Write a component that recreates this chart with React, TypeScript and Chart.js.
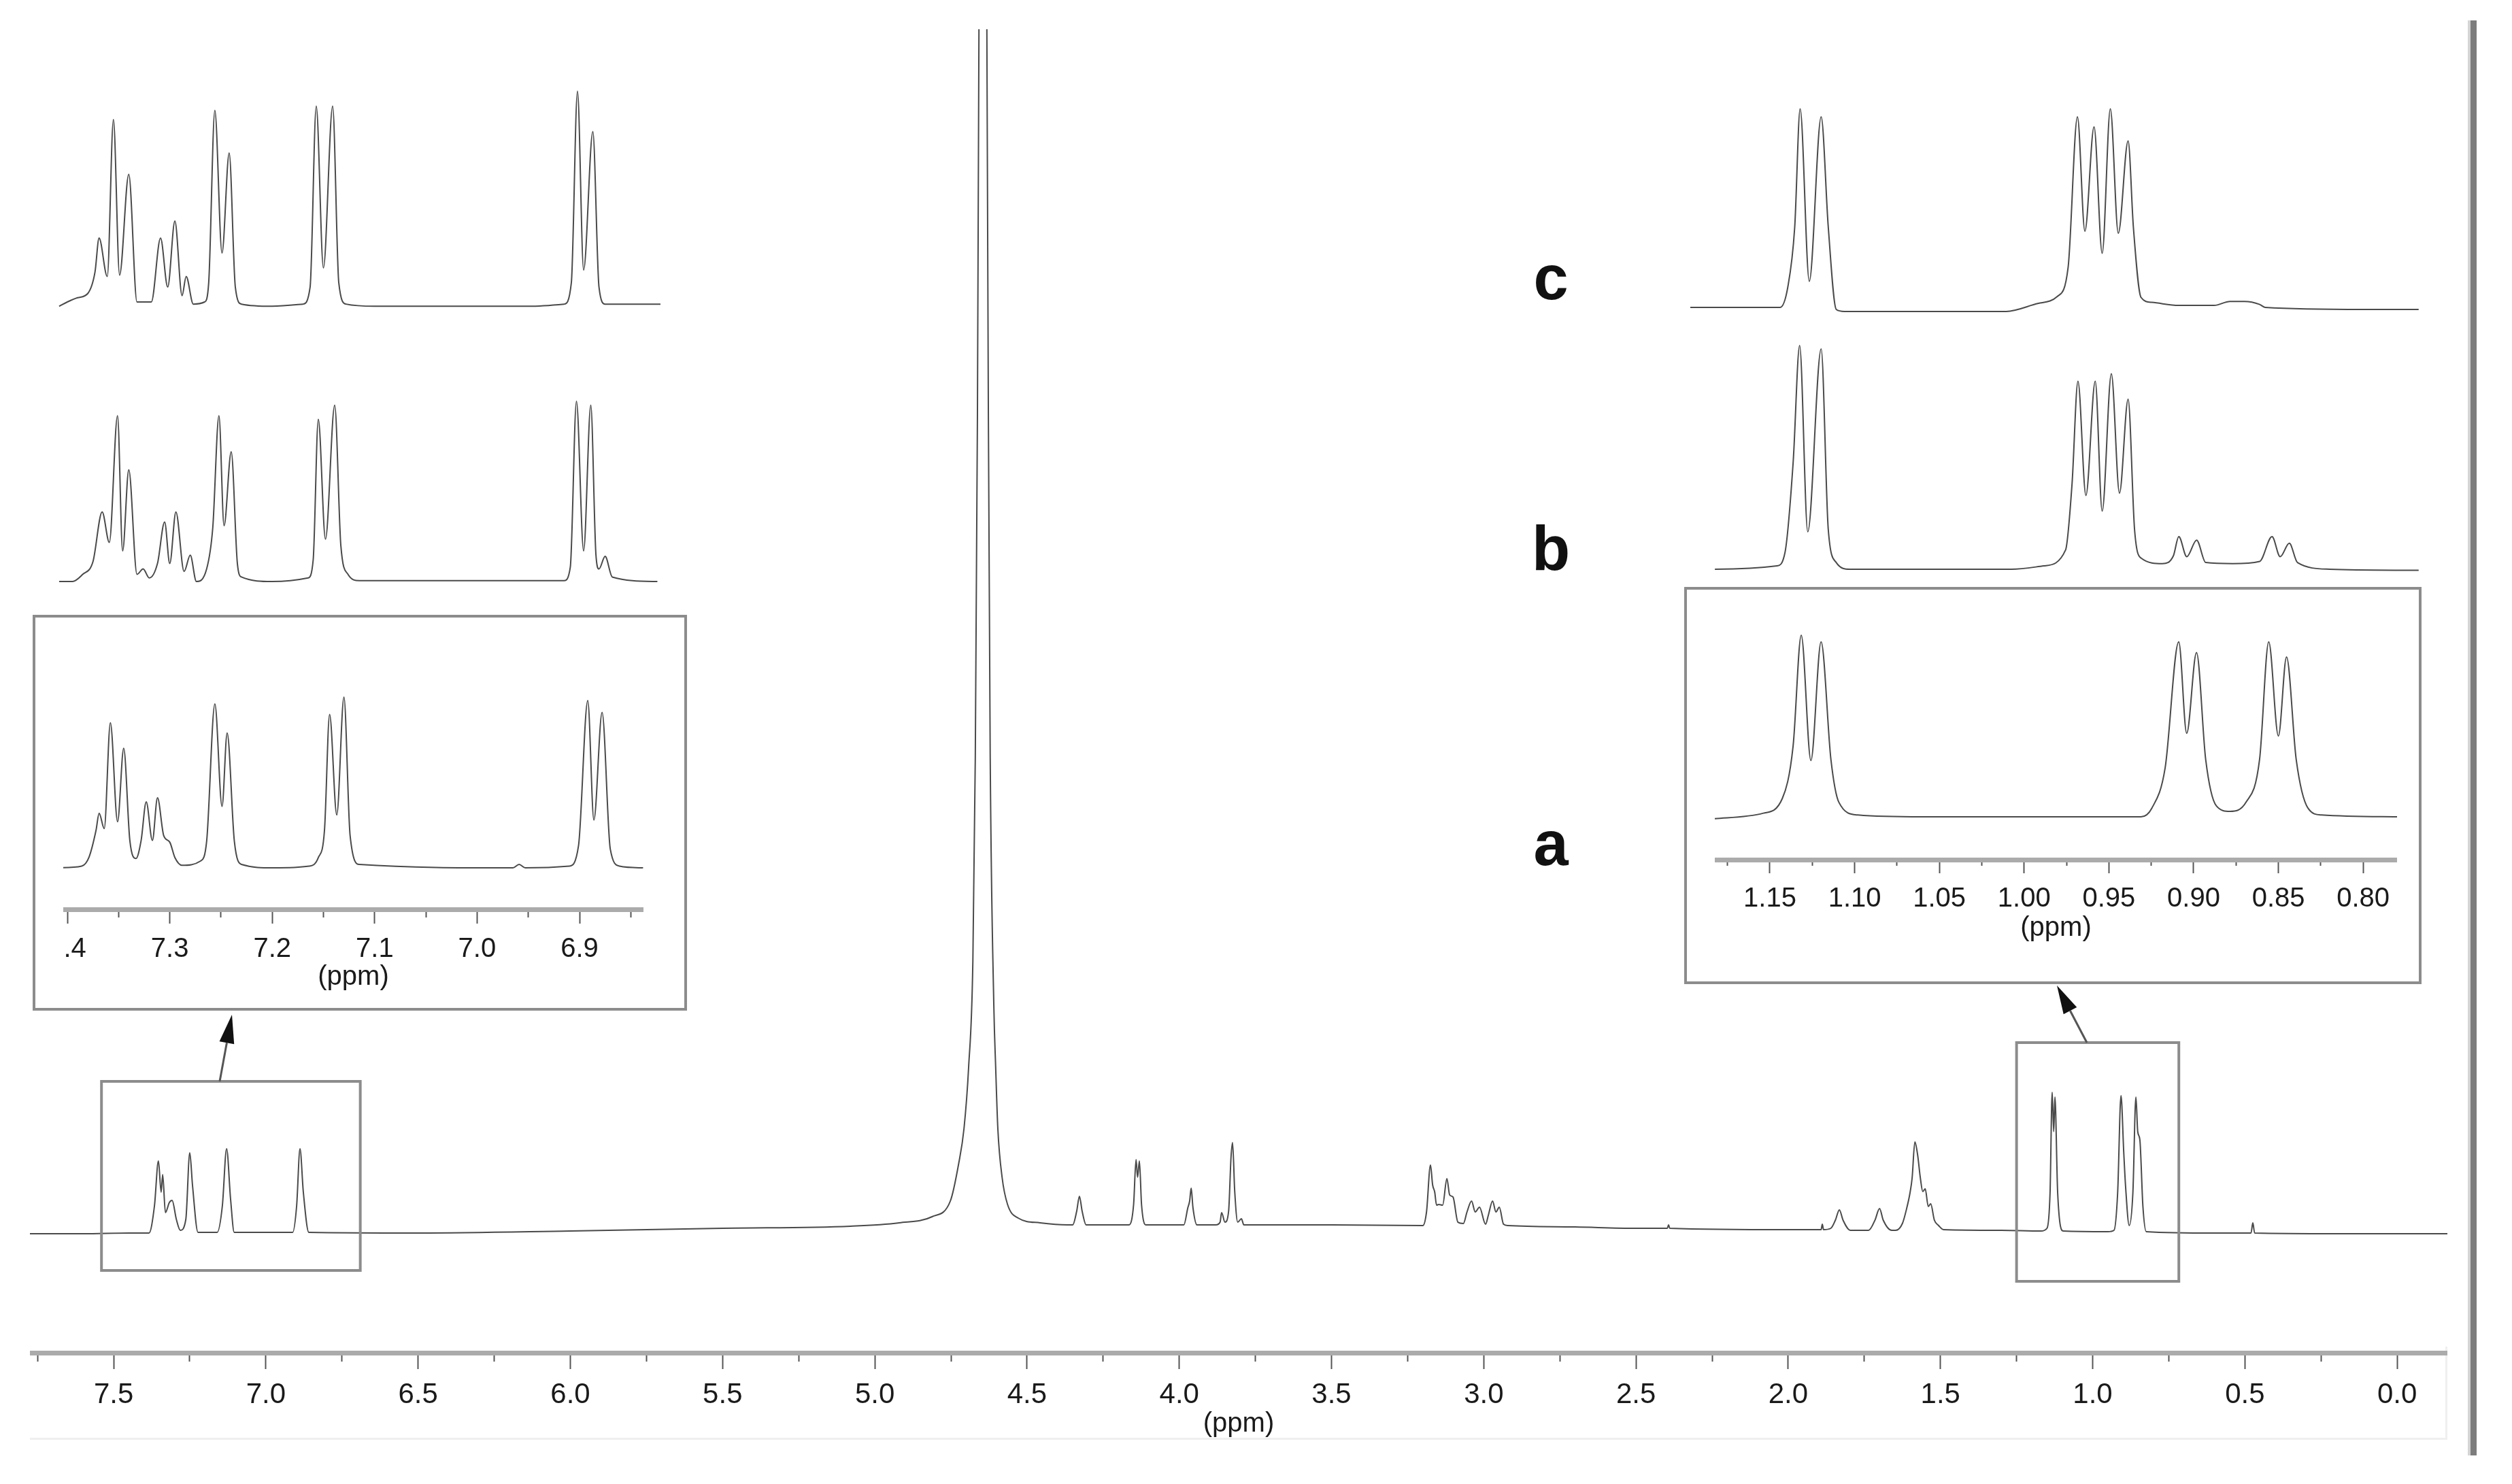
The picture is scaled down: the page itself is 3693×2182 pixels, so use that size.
import React, { useEffect, useRef } from "react";
import { Chart, registerables } from "chart.js";

Chart.register(...registerables);

type Pt = [number, number];

const FONT = '"Liberation Sans", Arial, Helvetica, sans-serif';
const LINE = "#4a4a4a";
const FRAME = "#8c8c8c";

// ---------------- DATA ----------------
// Main 1H spectrum: [ppm, intensity]
const MAIN_SPECTRUM: Pt[] = [
  [7.775, 0], [7.6, 0], [7.45, 1], [7.384, 1], [7.366, 41], [7.353, 107], [7.344, 61], [7.339, 87],
  [7.33, 31], [7.317, 46], [7.308, 49], [7.294, 21], [7.281, 5], [7.263, 21], [7.25, 119], [7.241, 71],
  [7.223, 2], [7.16, 2], [7.143, 41], [7.129, 125], [7.116, 51], [7.104, 2], [6.912, 2], [6.899, 41],
  [6.888, 125], [6.877, 61], [6.859, 2], [6.5, 1], [6.0, 4], [5.5, 8], [5.08, 11], [4.92, 16],
  [4.812, 25], [4.752, 48], [4.725, 102], [4.707, 155], [4.692, 244], [4.678, 400], [4.67, 700],
  [4.663, 1200], [4.656, 2000], [4.645, 3700], [4.634, 2000], [4.627, 1200], [4.621, 700],
  [4.609, 333], [4.603, 244], [4.596, 155], [4.582, 83], [4.564, 43], [4.529, 23], [4.457, 16],
  [4.368, 13], [4.35, 13], [4.337, 33], [4.328, 55], [4.319, 33], [4.306, 13], [4.165, 13],
  [4.15, 43], [4.142, 109], [4.137, 83], [4.131, 107], [4.124, 43], [4.11, 13], [3.985, 13],
  [3.972, 38], [3.966, 48], [3.961, 67], [3.955, 38], [3.942, 13], [3.88, 13], [3.866, 17],
  [3.861, 31], [3.85, 17], [3.838, 33], [3.83, 113], [3.825, 134], [3.818, 63], [3.808, 17],
  [3.796, 22], [3.788, 13], [3.5, 13], [3.2, 12], [3.188, 32], [3.175, 101], [3.168, 72],
  [3.161, 61], [3.155, 42], [3.148, 43], [3.135, 42], [3.121, 81], [3.112, 57], [3.101, 54],
  [3.085, 17], [3.067, 15], [3.055, 32], [3.04, 48], [3.028, 32], [3.014, 39], [2.994, 14],
  [2.985, 27], [2.971, 48], [2.96, 32], [2.949, 39], [2.935, 14], [2.92, 12], [2.7, 10], [2.5, 8],
  [2.397, 8], [2.393, 13], [2.389, 8], [2.0, 6], [1.892, 6], [1.888, 14], [1.884, 6], [1.86, 8],
  [1.845, 20], [1.832, 35], [1.82, 20], [1.796, 5], [1.736, 5], [1.715, 20], [1.7, 37], [1.688, 20],
  [1.66, 5], [1.647, 5], [1.625, 15], [1.611, 37], [1.6, 60], [1.593, 82], [1.584, 135], [1.575, 116],
  [1.566, 82], [1.558, 62], [1.55, 66], [1.54, 40], [1.532, 44], [1.52, 20], [1.506, 12], [1.49, 6],
  [1.3, 5], [1.17, 4], [1.15, 8], [1.14, 60], [1.133, 208], [1.128, 150], [1.124, 201], [1.115, 60],
  [1.097, 4], [0.95, 3], [0.93, 5], [0.918, 60], [0.907, 203], [0.898, 120], [0.892, 70], [0.88, 12],
  [0.868, 60], [0.858, 201], [0.852, 150], [0.845, 138], [0.835, 40], [0.824, 3], [0.6, 1], [0.48, 1],
  [0.474, 16], [0.468, 1], [0.2, 0], [-0.165, 0],
];

// Aromatic region, samples a (framed), b, c (relative intensity)
const AROM_A: Pt[] = [
  [7.409, 0], [7.386, 0.01], [7.379, 0.06], [7.372, 0.22], [7.369, 0.32], [7.364, 0.23], [7.358, 0.85],
  [7.351, 0.27], [7.345, 0.7], [7.339, 0.16], [7.333, 0.055], [7.328, 0.16], [7.323, 0.386], [7.317, 0.16],
  [7.312, 0.41], [7.306, 0.19], [7.3, 0.15], [7.295, 0.06], [7.288, 0.015], [7.27, 0.04], [7.264, 0.157],
  [7.256, 0.96], [7.249, 0.36], [7.244, 0.79], [7.237, 0.157], [7.23, 0.02], [7.199, 0], [7.164, 0.01],
  [7.155, 0.06], [7.149, 0.22], [7.144, 0.898], [7.137, 0.31], [7.13, 1.0], [7.124, 0.19], [7.115, 0.02],
  [6.965, 0], [6.959, 0.02], [6.953, 0], [6.91, 0.01], [6.901, 0.13], [6.892, 0.98], [6.886, 0.28],
  [6.878, 0.91], [6.87, 0.11], [6.861, 0.01], [6.838, 0],
];
const AROM_B: Pt[] = [
  [7.408, 0], [7.395, 0], [7.385, 0.04], [7.375, 0.11], [7.366, 0.386], [7.359, 0.217], [7.351, 0.92],
  [7.346, 0.17], [7.34, 0.62], [7.332, 0.04], [7.326, 0.07], [7.32, 0.02], [7.312, 0.1], [7.305, 0.33],
  [7.3, 0.1], [7.294, 0.386], [7.286, 0.056], [7.28, 0.146], [7.274, 0], [7.264, 0.07], [7.258, 0.3],
  [7.252, 0.92], [7.247, 0.31], [7.24, 0.72], [7.234, 0.1], [7.23, 0.025], [7.2, 0], [7.165, 0.02],
  [7.16, 0.12], [7.155, 0.9], [7.148, 0.235], [7.139, 0.978], [7.133, 0.2], [7.126, 0.04], [7.115, 0.005],
  [6.915, 0.005], [6.909, 0.08], [6.903, 1.0], [6.896, 0.17], [6.889, 0.978], [6.884, 0.15], [6.881, 0.07],
  [6.875, 0.14], [6.868, 0.025], [6.824, 0],
];
const AROM_C: Pt[] = [
  [7.408, -0.01], [7.4, 0.01], [7.39, 0.03], [7.38, 0.05], [7.373, 0.15], [7.369, 0.31], [7.361, 0.13],
  [7.355, 0.867], [7.349, 0.136], [7.34, 0.61], [7.332, 0.01], [7.318, 0.01], [7.309, 0.31], [7.302, 0.08],
  [7.295, 0.39], [7.288, 0.04], [7.284, 0.13], [7.277, 0], [7.266, 0.01], [7.262, 0.1], [7.256, 0.91],
  [7.249, 0.24], [7.242, 0.71], [7.236, 0.08], [7.23, 0], [7.2, -0.01], [7.17, 0], [7.163, 0.08],
  [7.157, 0.93], [7.15, 0.17], [7.141, 0.93], [7.135, 0.1], [7.128, 0], [7.1, -0.01], [7.0, -0.01],
  [6.95, -0.01], [6.915, 0], [6.908, 0.1], [6.902, 1.0], [6.896, 0.16], [6.887, 0.81], [6.881, 0.08],
  [6.875, 0], [6.821, 0],
];

// Aliphatic region, samples a (framed), b, c
const ALIPH_A: Pt[] = [
  [1.1825, -0.01], [1.1538, 0.02], [1.1427, 0.1], [1.1363, 0.39], [1.1315, 1.0], [1.1258, 0.31],
  [1.1198, 0.963], [1.114, 0.316], [1.1093, 0.08], [1.0981, 0.01], [1.06, 0], [1.0, 0], [0.9311, 0],
  [0.9247, 0.047], [0.9168, 0.27], [0.9088, 0.963], [0.9041, 0.46], [0.8983, 0.904], [0.8929, 0.316],
  [0.8866, 0.06], [0.8786, 0.03], [0.8691, 0.08], [0.8611, 0.316], [0.8557, 0.963], [0.85, 0.445],
  [0.8452, 0.88], [0.8395, 0.316], [0.8325, 0.047], [0.8245, 0.01], [0.78, 0],
];
const ALIPH_B: Pt[] = [
  [1.1825, 0], [1.1459, 0.015], [1.1411, 0.076], [1.1363, 0.48], [1.1325, 1.0], [1.1277, 0.167],
  [1.1198, 0.985], [1.1156, 0.177], [1.1109, 0.03], [1.1029, 0], [1.0075, 0], [0.9884, 0.015],
  [0.9756, 0.086], [0.9718, 0.38], [0.9683, 0.84], [0.9636, 0.33], [0.9581, 0.84], [0.954, 0.26],
  [0.9486, 0.874], [0.9438, 0.34], [0.9387, 0.76], [0.9349, 0.177], [0.9311, 0.05], [0.9184, 0.025],
  [0.912, 0.06], [0.9088, 0.146], [0.9041, 0.056], [0.8983, 0.13], [0.8929, 0.03], [0.877, 0.025],
  [0.8611, 0.035], [0.8538, 0.146], [0.849, 0.056], [0.8436, 0.116], [0.8388, 0.03], [0.8197, 0],
  [0.7673, -0.005],
];
const ALIPH_C: Pt[] = [
  [1.197, 0.01], [1.17, 0.01], [1.15, 0.01], [1.144, 0.01], [1.1395, 0.11], [1.1354, 0.41], [1.1322, 1.0],
  [1.1268, 0.14], [1.1198, 0.96], [1.1156, 0.41], [1.1109, 0], [1.1061, -0.01], [1.0106, -0.01],
  [0.9916, 0.03], [0.9804, 0.065], [0.9741, 0.21], [0.9686, 0.96], [0.9642, 0.39], [0.9588, 0.91],
  [0.954, 0.28], [0.9492, 1.0], [0.9445, 0.38], [0.9387, 0.84], [0.9356, 0.41], [0.9311, 0.06],
  [0.9247, 0.035], [0.9088, 0.02], [0.888, 0.02], [0.8786, 0.04], [0.87, 0.04], [0.8611, 0.025],
  [0.8579, 0.01], [0.8, 0], [0.7673, 0],
];

// Tick values
const MAIN_MAJOR_TICKS = [7.5, 7.0, 6.5, 6.0, 5.5, 5.0, 4.5, 4.0, 3.5, 3.0, 2.5, 2.0, 1.5, 1.0, 0.5, 0.0];
const MAIN_MINOR_TICKS = [7.75, 7.25, 6.75, 6.25, 5.75, 5.25, 4.75, 4.25, 3.75, 3.25, 2.75, 2.25, 1.75, 1.25, 0.75, 0.25];
const AROM_MAJOR_TICKS = [7.4, 7.3, 7.2, 7.1, 7.0, 6.9];
const AROM_MINOR_TICKS = [7.35, 7.25, 7.15, 7.05, 6.95, 6.85];
const ALIPH_MAJOR_TICKS = [1.15, 1.1, 1.05, 1.0, 0.95, 0.9, 0.85, 0.8];
const ALIPH_MINOR_TICKS = [1.175, 1.125, 1.075, 1.025, 0.975, 0.925, 0.875, 0.825];
const SAMPLE_LABELS = ["c", "b", "a"];

// Zoomed regions marked on the main spectrum (ppm range, intensity range)
const ZOOM_REGIONS = [
  { from: 7.54, to: 6.69, top: 224, bottom: -54 },
  { from: 1.25, to: 0.717, top: 281, bottom: -70 },
];

// ---------------- LAYOUT (page pixels) ----------------
const MAIN_FRAME = { left: 44, top: 43, width: 3554, height: 2075 };
const INSET_FRAMES = [
  { x: 50, y: 906, w: 958, h: 578 },
  { x: 2478, y: 865, w: 1080, h: 580 },
];
const ARROWS = [
  { x1: 323, y1: 1590, x2: 341, y2: 1492 },
  { x1: 3068, y1: 1533, x2: 3024, y2: 1449 },
];

function axisPair(
  min: number, max: number, major: number[], minor: number[], dec: number,
  majorLen: number, minorLen: number, pad: number, size: number, h: number
) {
  return {
    xm: {
      type: "linear", axis: "x", position: "bottom", weight: 0, min, max, reverse: true,
      afterBuildTicks: (s: any) => { s.ticks = minor.map((v) => ({ value: v })); },
      afterFit: (s: any) => { s.height = 0; s.paddingLeft = 0; s.paddingRight = 0; },
      border: { display: false },
      grid: { display: true, drawOnChartArea: false, drawTicks: true, tickLength: minorLen, tickColor: "#555", tickWidth: 2 },
      ticks: { display: false },
    },
    x: {
      type: "linear", axis: "x", position: "bottom", weight: 1, min, max, reverse: true,
      afterBuildTicks: (s: any) => { s.ticks = major.map((v) => ({ value: v })); },
      afterFit: (s: any) => { s.height = h; s.paddingLeft = 0; s.paddingRight = 0; },
      border: { display: true, color: "#ababab", width: 7 },
      grid: { display: true, drawOnChartArea: false, drawTicks: true, tickLength: majorLen, tickColor: "#555", tickWidth: 2 },
      ticks: {
        display: true, autoSkip: false, maxRotation: 0, minRotation: 0, padding: pad, color: "#1a1a1a",
        font: { family: FONT, size }, callback: (v: any) => Number(v).toFixed(dec),
      },
      title: { display: true, text: "(ppm)", color: "#1a1a1a", font: { family: FONT, size: 40 }, padding: 0 },
    },
  };
}

function makeConfig(data: Pt[], xmin: number, xmax: number, ymin: number, ymax: number, axes: any, plugins: any[] = [], width = 2) {
  const xScales = axes || { x: { type: "linear", display: false, min: xmin, max: xmax, reverse: true } };
  return {
    type: "line",
    data: {
      datasets: [{
        data: data.map(([x, y]) => ({ x, y })),
        borderColor: LINE, borderWidth: width, pointRadius: 0, fill: false,
        cubicInterpolationMode: "monotone", xAxisID: "x", yAxisID: "y",
      }],
    },
    options: {
      animation: false, responsive: false, maintainAspectRatio: false, events: [],
      layout: { padding: 0 },
      plugins: { legend: { display: false }, tooltip: { enabled: false }, title: { display: false } },
      scales: { ...xScales, y: { type: "linear", display: false, min: ymin, max: ymax } },
    },
    plugins,
  };
}

function drawArrow(ctx: CanvasRenderingContext2D, x1: number, y1: number, x2: number, y2: number) {
  const ang = Math.atan2(y2 - y1, x2 - x1);
  const len = 42, half = 11;
  const bx = x2 - len * Math.cos(ang), by = y2 - len * Math.sin(ang);
  ctx.strokeStyle = "#555";
  ctx.lineWidth = 3;
  ctx.beginPath();
  ctx.moveTo(x1, y1);
  ctx.lineTo(bx, by);
  ctx.stroke();
  ctx.fillStyle = "#111";
  ctx.beginPath();
  ctx.moveTo(x2, y2);
  ctx.lineTo(bx + half * Math.sin(ang), by - half * Math.cos(ang));
  ctx.lineTo(bx - half * Math.sin(ang), by + half * Math.cos(ang));
  ctx.closePath();
  ctx.fill();
}

const overlayPlugin = {
  id: "overlay",
  afterDatasetsDraw(chart: any) {
    const ctx = chart.ctx as CanvasRenderingContext2D;
    const xs = chart.scales.x, ys = chart.scales.y;
    const ox = MAIN_FRAME.left, oy = MAIN_FRAME.top;
    ctx.save();
    ctx.strokeStyle = FRAME;
    ctx.lineWidth = 4;
    ZOOM_REGIONS.forEach((r) => {
      const x1 = xs.getPixelForValue(r.from), x2 = xs.getPixelForValue(r.to);
      const y1 = ys.getPixelForValue(r.top), y2 = ys.getPixelForValue(r.bottom);
      ctx.strokeRect(x1, y1, x2 - x1, y2 - y1);
    });
    INSET_FRAMES.forEach((f) => ctx.strokeRect(f.x - ox, f.y - oy, f.w, f.h));
    ARROWS.forEach((a) => drawArrow(ctx, a.x1 - ox, a.y1 - oy, a.x2 - ox, a.y2 - oy));
    ctx.restore();
  },
};

interface Frame { left: number; top: number; width: number; height: number; }

function ChartBox({ frame, build }: { frame: Frame; build: () => any }) {
  const ref = useRef<HTMLCanvasElement | null>(null);
  useEffect(() => {
    if (!ref.current) return;
    const chart = new Chart(ref.current, build());
    return () => chart.destroy();
  }, []);
  return (
    <canvas
      ref={ref}
      width={frame.width}
      height={frame.height}
      style={{ position: "absolute", left: frame.left, top: frame.top, width: frame.width, height: frame.height }}
    />
  );
}

const PANELS: { frame: Frame; build: () => any }[] = [
  {
    frame: MAIN_FRAME,
    build: () => makeConfig(MAIN_SPECTRUM, -0.165, 7.775, -175, 1771,
      axisPair(-0.165, 7.775, MAIN_MAJOR_TICKS, MAIN_MINOR_TICKS, 1, 24, 13, 13, 42, 129), [overlayPlugin], 2),
  },
  {
    frame: { left: 93, top: 960, width: 853, height: 501 },
    build: () => makeConfig(AROM_A, 6.8376, 7.404, -0.243, 1.259,
      axisPair(6.8376, 7.404, AROM_MAJOR_TICKS, AROM_MINOR_TICKS, 1, 21, 12, 14, 40, 124)),
  },
  { frame: { left: 80, top: 560, width: 900, height: 320 }, build: () => makeConfig(AROM_B, 6.815, 7.4126, -0.094, 1.113, null) },
  { frame: { left: 80, top: 110, width: 900, height: 360 }, build: () => makeConfig(AROM_C, 6.815, 7.4126, -0.073, 1.077, null) },
  {
    frame: { left: 2521, top: 900, width: 1003, height: 489 },
    build: () => makeConfig(ALIPH_A, 0.78, 1.1825, -0.236, 1.127,
      axisPair(0.78, 1.1825, ALIPH_MAJOR_TICKS, ALIPH_MINOR_TICKS, 2, 20, 9, 14, 40, 125)),
  },
  { frame: { left: 2480, top: 480, width: 1080, height: 380 }, build: () => makeConfig(ALIPH_B, 0.7656, 1.199, -0.07, 1.085, null) },
  { frame: { left: 2480, top: 130, width: 1080, height: 350 }, build: () => makeConfig(ALIPH_C, 0.7656, 1.199, -0.085, 1.102, null) },
];

const LABEL_TOPS = [362, 760, 1194];

export default function App() {
  return (
    <div style={{ position: "fixed", left: 0, top: 0, width: 3693, height: 2182, background: "#fff", overflow: "hidden" }}>
      <div style={{ position: "absolute", left: 44, top: 1980, width: 3551, height: 134, borderRight: "3px solid #efefef", borderBottom: "3px solid #efefef" }} />
      {PANELS.map((p, i) => <ChartBox key={i} frame={p.frame} build={p.build} />)}
      {SAMPLE_LABELS.map((s, i) => (
        <div
          key={s}
          style={{
            position: "absolute", left: 2280, top: LABEL_TOPS[i], transform: "translateX(-50%)",
            font: `bold 92px ${FONT}`, lineHeight: 1, color: "#111",
          }}
        >
          {s}
        </div>
      ))}
      <div style={{ position: "absolute", left: 3628, top: 30, width: 4, height: 2110, background: "#d4d4d4" }} />
      <div style={{ position: "absolute", left: 3632, top: 30, width: 9, height: 2110, background: "#7d7d7d" }} />
    </div>
  );
}
